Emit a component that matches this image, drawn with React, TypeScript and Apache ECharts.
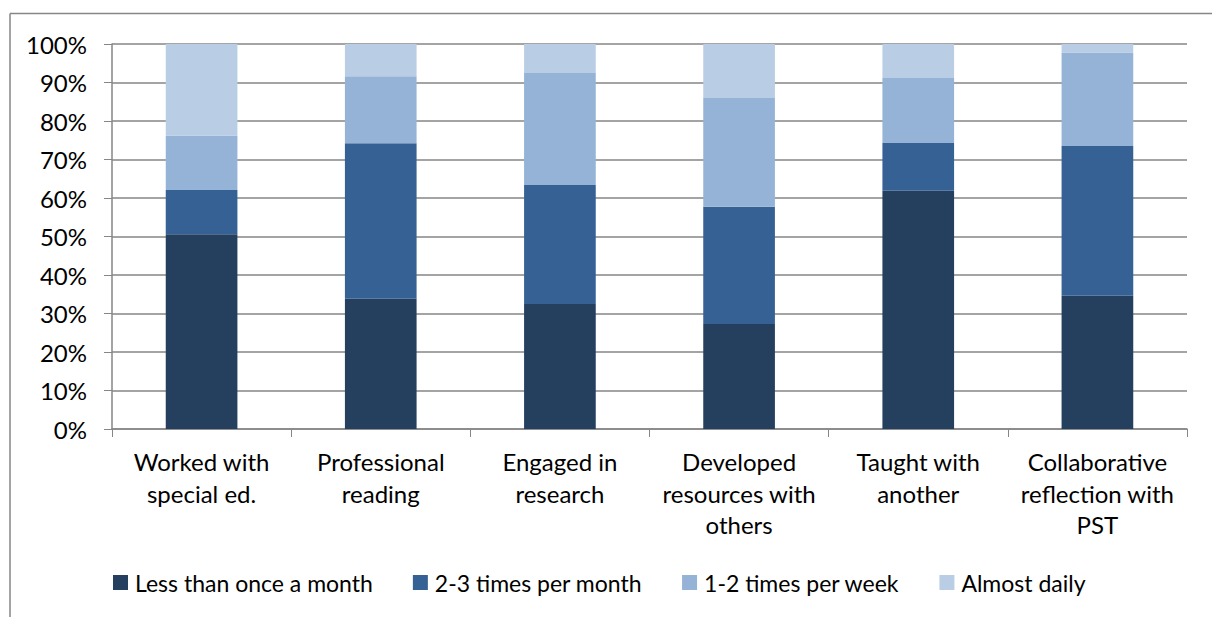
import React, { useEffect, useRef } from "react";
import * as echarts from "echarts";

const categories = [
  "Worked with\nspecial ed.",
  "Professional\nreading",
  "Engaged in\nresearch",
  "Developed\nresources with\nothers",
  "Taught with\nanother",
  "Collaborative\nreflection with\nPST",
];
const seriesNames = ["Less than once a month", "2-3 times per month", "1-2 times per week", "Almost daily"];
const lessThanMonthly = [50.6, 33.8, 32.5, 27.3, 61.9, 34.6];
const twoThreeMonthly = [11.5, 40.4, 30.9, 30.4, 12.4, 38.9];
const oneTwoWeekly = [14.1, 17.4, 29.1, 28.3, 16.9, 24.3];
const almostDaily = [23.8, 8.4, 7.5, 14.0, 8.8, 2.2];
const colors = ["#253F5F", "#366194", "#95B3D7", "#B9CDE5"];

export default function App() {
  const ref = useRef<HTMLDivElement>(null);
  useEffect(() => {
    document.body.style.margin = "0";
    const chart = echarts.init(ref.current!, null, { renderer: "svg" });
    const data = [lessThanMonthly, twoThreeMonthly, oneTwoWeekly, almostDaily];
    const font = "Lato, 'Noto Sans', sans-serif";
    chart.setOption({
      animation: false,
      textStyle: { fontFamily: font },
      grid: { left: 112, right: 25, top: 44, bottom: 188 },
      legend: {
        bottom: 18,
        left: 108,
        icon: "rect",
        itemWidth: 15,
        itemHeight: 15,
        itemGap: 40,
        textStyle: { fontSize: 23, color: "#000", fontFamily: font, padding: [0, 0, 0, 2] },
        data: seriesNames,
      },
      xAxis: {
        type: "category",
        data: categories,
        axisLine: { lineStyle: { color: "#868686", width: 1.5 } },
        axisTick: { show: true, length: 8, lineStyle: { color: "#868686" }, alignWithLabel: false },
        axisLabel: { fontSize: 24, color: "#000", lineHeight: 31.5, margin: 17, interval: 0, fontFamily: font },
      },
      yAxis: {
        type: "value",
        min: 0,
        max: 100,
        interval: 10,
        axisLine: { show: true, lineStyle: { color: "#868686", width: 1.5 } },
        axisTick: { show: true, length: 8, lineStyle: { color: "#868686" } },
        splitLine: { lineStyle: { color: "#868686", width: 1.5 } },
        axisLabel: { fontSize: 24, color: "#000", margin: 25, formatter: "{value}%", fontFamily: font },
      },
      series: seriesNames.map((name, i) => ({
        name,
        type: "bar",
        stack: "total",
        barWidth: "40%",
        data: data[i],
        itemStyle: { color: colors[i] },
      })),
      graphic: [
        { type: "line", shape: { x1: 10, y1: 13.5, x2: 1212, y2: 13.5 }, style: { stroke: "#868686", lineWidth: 1.5 } },
        { type: "line", shape: { x1: 10, y1: 13.5, x2: 10, y2: 617 }, style: { stroke: "#868686", lineWidth: 1.5 } },
      ],
    });
    return () => chart.dispose();
  }, []);
  return <div ref={ref} style={{ width: 1212, height: 617 }} />;
}
